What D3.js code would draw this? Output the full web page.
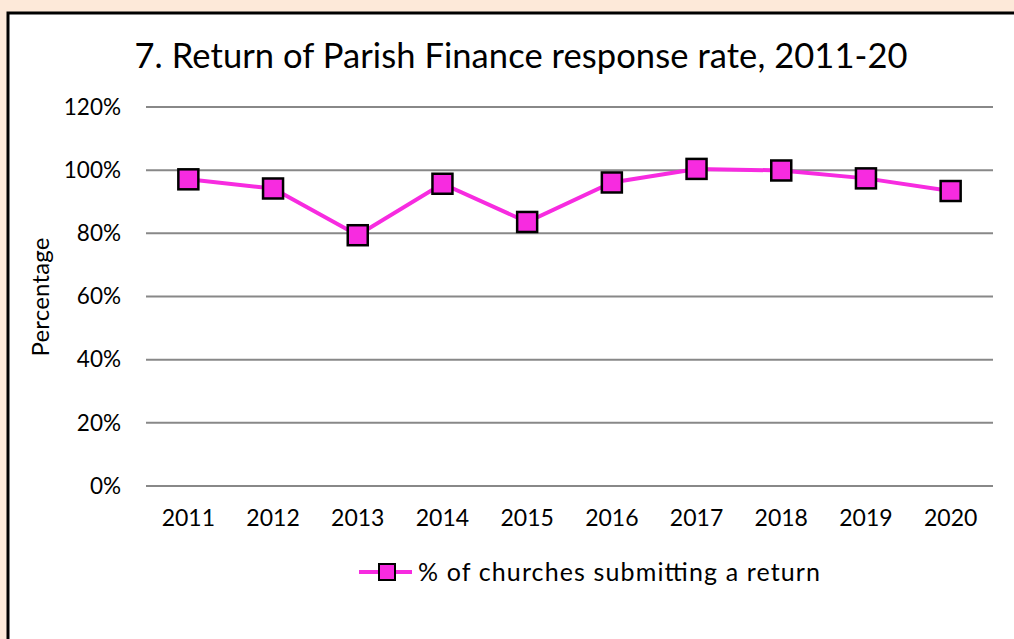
<!DOCTYPE html>
<html><head><meta charset="utf-8">
<script src="https://cdn.jsdelivr.net/npm/d3@7"></script>
<style>
html,body{margin:0;padding:0;background:#fde9d9;}
svg{display:block;}
text{font-family:Lato, "Open Sans", sans-serif;fill:#000;}
</style></head><body>
<svg id="chart" width="1014" height="639"></svg>
<script>
const years = ["2011","2012","2013","2014","2015","2016","2017","2018","2019","2020"];
const responseRate = [97.1, 94.2, 79.4, 95.7, 83.6, 96.1, 100.4, 99.9, 97.4, 93.4];
const yTicks = [0, 20, 40, 60, 80, 100, 120];
const seriesName = "% of churches submitting a return";
const titleText = "7. Return of Parish Finance response rate, 2011-20";

const svg = d3.select("#chart");
svg.append("rect").attr("x",0).attr("y",0).attr("width",1014).attr("height",639).attr("fill","#fde9d9");
svg.append("rect").attr("x",8).attr("y",13).attr("width",1010).attr("height",640)
  .attr("fill","#fff").attr("stroke","#000").attr("stroke-width",3);

const x = d3.scaleBand().domain(years).range([146, 993]);
const y = d3.scaleLinear().domain([0,120]).range([486, 107]);

svg.append("text").attr("x",521).attr("y",68).attr("text-anchor","middle")
  .attr("font-size",34.5).attr("textLength",773).attr("lengthAdjust","spacing").text(titleText);

// gridlines
svg.append("g").selectAll("line").data(yTicks).join("line")
  .attr("x1",146).attr("x2",993)
  .attr("y1",d=>y(d)).attr("y2",d=>y(d))
  .attr("stroke","#888").attr("stroke-width",2);

const yAxis = svg.append("g").attr("transform","translate(146,0)")
  .call(d3.axisLeft(y).tickValues(yTicks).tickFormat(d=>d+"%").tickSize(0).tickPadding(25));
yAxis.select(".domain").remove();
yAxis.selectAll("text").attr("font-size",22.5).style("font-family","Lato, sans-serif").attr("fill","#000");

const xAxis = svg.append("g").attr("transform","translate(0,486)")
  .call(d3.axisBottom(x).tickSize(0).tickPadding(24));
xAxis.select(".domain").remove();
xAxis.selectAll("text").attr("font-size",23).style("font-family","Lato, sans-serif").attr("fill","#000");

svg.append("text").attr("transform","translate(49,297) rotate(-90)")
  .attr("text-anchor","middle").attr("font-size",24).attr("textLength",119).attr("lengthAdjust","spacing").text("Percentage");

const data = years.map((yr,i)=>({yr, v: responseRate[i]}));
const line = d3.line().x(d=>x(d.yr)+x.bandwidth()/2).y(d=>y(d.v));
svg.append("path").datum(data).attr("d",line)
  .attr("fill","none").attr("stroke","#f72be0").attr("stroke-width",4);

const ms = 20;
svg.append("g").selectAll("rect").data(data).join("rect")
  .attr("x",d=>x(d.yr)+x.bandwidth()/2-ms/2)
  .attr("y",d=>y(d.v)-ms/2)
  .attr("width",ms).attr("height",ms)
  .attr("fill","#f72be0").attr("stroke","#000").attr("stroke-width",2.5);

// legend
const lg = svg.append("g").attr("transform","translate(0,572)");
lg.append("line").attr("x1",359).attr("x2",412).attr("y1",0).attr("y2",0)
  .attr("stroke","#f72be0").attr("stroke-width",4);
lg.append("rect").attr("x",387-8).attr("y",-8).attr("width",16).attr("height",16)
  .attr("fill","#f72be0").attr("stroke","#000").attr("stroke-width",2);
lg.append("text").attr("x",418).attr("y",9).attr("font-size",25).attr("textLength",402).attr("lengthAdjust","spacing").text(seriesName);
</script>
</body></html>
